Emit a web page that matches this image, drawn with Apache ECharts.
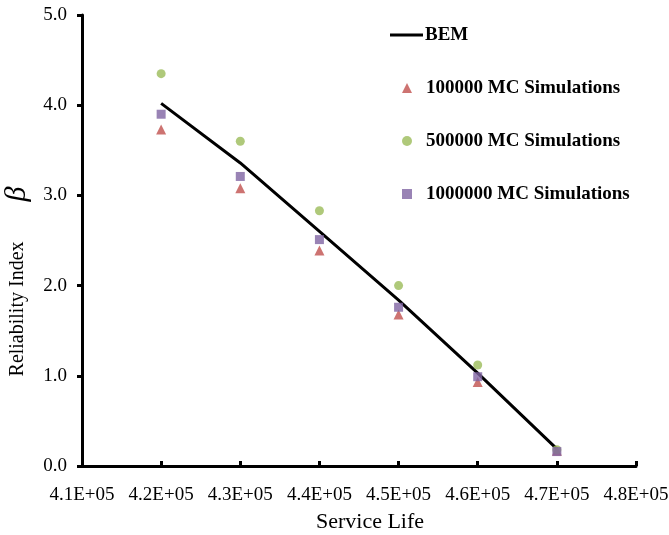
<!DOCTYPE html>
<html><head><meta charset="utf-8">
<script src="https://cdn.jsdelivr.net/npm/echarts@6/dist/echarts.min.js"></script>
<style>html,body{margin:0;padding:0;background:#fff}#c{width:669px;height:535px}</style>
</head><body><div id="c"></div>
<script>
var serviceLife = [420000, 430000, 440000, 450000, 460000, 470000];
var bem = [4.02, 3.36, 2.60, 1.84, 1.03, 0.19];
var mc100k = [3.73, 3.08, 2.39, 1.68, 0.93, 0.17];
var mc500k = [4.35, 3.60, 2.83, 2.00, 1.12, 0.18];
var mc1m = [3.90, 3.21, 2.51, 1.76, 0.99, 0.16];
var seriesNames = ['BEM', '100000 MC Simulations', '500000 MC Simulations', '1000000 MC Simulations'];

function pairs(v){ return serviceLife.map(function(x,i){ return [x, v[i]]; }); }
var FONT = '"Liberation Serif","Times New Roman",serif';
var chart = echarts.init(document.getElementById('c'));
chart.setOption({
  animation: false,
  backgroundColor: '#fff',
  grid: {left: 82, right: 33, top: 15, bottom: 69, containLabel: false, outerBoundsMode: 'none'},
  legend: [
    {data: [{name: seriesNames[0], icon: 'path://M0,0 L33,0 L33,3 L0,3 Z'}], left: 390, top: 25, padding: 0, itemWidth: 33, itemHeight: 3, itemGap: 0,
     textStyle: {fontFamily: FONT, fontWeight: 'bold', fontSize: 19, lineHeight: 20, color: '#000', padding: [0,0,0,-3]}},
    {data: seriesNames.slice(1), orient: 'vertical', left: 402, top: 78, padding: 0, itemWidth: 10, itemHeight: 10, itemGap: 33,
     textStyle: {fontFamily: FONT, fontWeight: 'bold', fontSize: 19, color: '#000', lineHeight: 20, padding: [0,0,0,9]}}
  ],
  xAxis: {
    type: 'value', min: 410000, max: 480000, interval: 10000,
    name: 'Service Life', nameLocation: 'middle', nameGap: 45,
    nameTextStyle: {fontFamily: FONT, fontSize: 22, color: '#000', padding: [0, 0, 0, 22]},
    axisLine: {onZero: false, lineStyle: {color: '#000', width: 3}},
    axisTick: {inside: true, length: 5, lineStyle: {color: '#000', width: 3}},
    axisLabel: {fontFamily: FONT, fontSize: 19, color: '#000', margin: 20,
      formatter: function(v){ return (v/100000).toFixed(1) + 'E+05'; }},
    splitLine: {show: false}
  },
  yAxis: {
    type: 'value', min: 0, max: 5, interval: 1,
    name: '{a|Reliability Index}{b|β}', nameLocation: 'middle', nameGap: 39, nameRotate: 90,
    nameTextStyle: {fontFamily: FONT, fontSize: 20, color: '#000', padding: [0, 82, 0, 0],
      rich: {a: {fontFamily: FONT, fontSize: 20, color: '#000'}, b: {fontFamily: FONT, fontSize: 30, fontStyle: 'italic', color: '#000', padding: [0,0,0,40]}}},
    axisLine: {lineStyle: {color: '#000', width: 3}},
    axisTick: {inside: false, length: 5, lineStyle: {color: '#000', width: 3}},
    axisLabel: {fontFamily: FONT, fontSize: 19, color: '#000', margin: 15,
      formatter: function(v){ return v.toFixed(1); }},
    splitLine: {show: false}
  },
  series: [
    {name: seriesNames[0], type: 'line', data: pairs(bem), symbol: 'none', z: 2,
     lineStyle: {color: '#000', width: 3}, itemStyle: {color: '#000'}},
    {name: seriesNames[1], type: 'scatter', data: pairs(mc100k), symbol: 'triangle', symbolSize: 10, z: 3,
     itemStyle: {color: '#C0504D'}},
    {name: seriesNames[2], type: 'scatter', data: pairs(mc500k), symbol: 'circle', symbolSize: 9, z: 3,
     itemStyle: {color: '#9BBB59'}},
    {name: seriesNames[3], type: 'scatter', data: pairs(mc1m), symbol: 'rect', symbolSize: 9, z: 4,
     itemStyle: {color: '#8064A2'}}
  ]
});
</script></body></html>
